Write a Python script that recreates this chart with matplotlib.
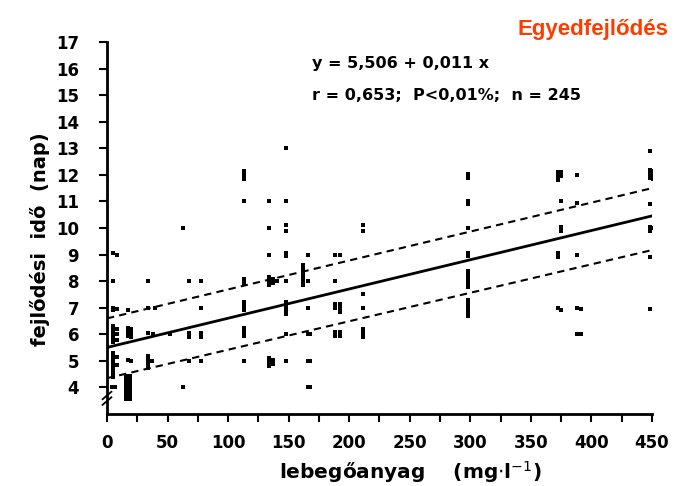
"""
Egyedfejlodes: development time vs suspended solids, with regression line.
"""
import matplotlib
matplotlib.use("Agg")
import matplotlib.pyplot as plt
import numpy as np

# regression line and confidence band end values (x = 0 and x = 450)
line_x = [0, 450]
fit_y = [5.506, 10.456]
upper_y = [6.6, 11.5]
lower_y = [4.35, 9.17]

pt_x = (
    [5] * 17 + [8] * 7 + [4, 7] + [16] * 7 + [19] * 7 + [17] * 5 + [20] * 4
    + [34] * 7 + [37, 38, 40] + [52] + [63] * 2 + [68] * 4 + [78] * 5
    + [113] * 13 + [134] * 9 + [137] * 4 + [140]
    + [148] * 13 + [162] * 6 + [166] * 6 + [168] * 3
    + [188] * 6 + [192] * 6 + [211] * 7
    + [298] * 17 + [372] * 6 + [375] * 6 + [388] * 5 + [391] * 2
    + [448] * 9 + [451] * 4
)
pt_y = (
    # x = 5 and 8
    [9.05, 8.0, 7.0, 6.3, 6.15, 6.0, 5.85, 5.7, 5.3, 5.15, 5.0, 4.85, 4.7, 4.55, 4.4, 4.0, 6.9]
    + [9.0, 6.95, 6.2, 6.0, 5.8, 5.15, 4.85]
    + [4.0, 4.0]
    # x = 16..20
    + [4.3, 4.15, 4.0, 3.85, 3.7, 3.55, 4.45]
    + [4.3, 4.15, 4.0, 3.85, 3.7, 3.55, 4.45]
    + [6.9, 6.25, 6.1, 5.95, 5.05]
    + [6.2, 6.05, 5.9, 5.0]
    # x = 34..78
    + [8.0, 7.0, 6.05, 5.2, 5.05, 4.9, 4.75]
    + [5.0, 6.0, 7.0]
    + [6.0]
    + [10.0, 4.0]
    + [8.0, 6.05, 5.9, 5.0]
    + [8.0, 7.0, 6.05, 5.9, 5.0]
    # x = 113
    + [12.15, 12.0, 11.85, 11.0, 8.1, 7.95, 7.2, 7.05, 6.9, 6.25, 6.1, 5.95, 5.0]
    # x = 134..140
    + [11.0, 10.0, 9.0, 8.15, 8.0, 7.85, 5.1, 4.95, 4.8]
    + [8.1, 7.95, 5.05, 4.9]
    + [8.0]
    # x = 148
    + [13.0, 11.0, 10.1, 9.9, 9.05, 8.95, 8.0, 7.2, 7.05, 6.9, 6.75, 6.0, 5.0]
    # x = 162..168
    + [8.6, 8.45, 8.3, 8.15, 8.0, 7.85]
    + [9.0, 8.0, 7.0, 6.0, 5.0, 4.0]
    + [6.0, 5.0, 4.0]
    # x = 188..211
    + [9.0, 8.0, 7.15, 7.0, 6.1, 5.95]
    + [9.0, 7.15, 7.0, 6.85, 6.1, 5.95]
    + [10.1, 9.9, 7.5, 7.0, 6.2, 6.05, 5.9]
    # x = 298
    + [12.05, 11.9, 11.0, 10.9, 10.0, 9.05, 8.95, 8.4, 8.25, 8.1, 7.95, 7.8, 7.3, 7.15, 7.0, 6.85, 6.7]
    # x = 372..391
    + [12.1, 11.95, 11.8, 9.05, 8.9, 7.0]
    + [12.1, 11.95, 11.0, 10.05, 9.9, 6.9]
    + [12.0, 10.95, 9.0, 7.0, 6.0]
    + [6.95, 6.0]
    # x = 448..451
    + [12.9, 12.2, 12.05, 11.9, 10.9, 10.05, 9.9, 8.9, 6.95]
    + [12.15, 12.0, 11.85, 10.0]
)

xticks = np.arange(0, 451, 50)
xminor = np.arange(0, 451, 25)
yticks = np.arange(4, 18, 1)

plt.rcParams["font.family"] = ["DejaVu Sans"]
fig = plt.figure(figsize=(6.97, 4.86), dpi=100)
ax = fig.add_axes([0.1535, 0.148, 0.7819, 0.7656])

ax.scatter(pt_x, pt_y, s=6, marker="s", color="black", linewidths=0, zorder=3)
ax.plot(line_x, fit_y, color="black", linewidth=2.0)
ax.plot(line_x, upper_y, color="black", linewidth=1.5, linestyle=(0, (3.5, 2.5)))
ax.plot(line_x, lower_y, color="black", linewidth=1.5, linestyle=(0, (3.5, 2.5)))

ax.set_xlim(0, 450)
ax.set_ylim(3, 17)
ax.set_xticks(xticks)
ax.set_xticks(xminor, minor=True)
ax.set_yticks(yticks)
ax.tick_params(axis="x", which="both", direction="out", length=6, width=1.5, pad=8, labelsize=12)
ax.tick_params(axis="y", direction="out", length=6, width=1.5, pad=14, labelsize=12)
for lab in ax.get_xticklabels() + ax.get_yticklabels():
    lab.set_fontweight("bold")
for side in ["top", "right"]:
    ax.spines[side].set_visible(False)
for side in ["left", "bottom"]:
    ax.spines[side].set_linewidth(2.0)

# axis break mark on the y axis
ax.plot([-0.008, 0.008], [0.025, 0.045], transform=ax.transAxes, color="black",
        linewidth=1.3, clip_on=False)
ax.plot([-0.008, 0.008], [0.040, 0.060], transform=ax.transAxes, color="black",
        linewidth=1.3, clip_on=False)

ax.set_ylabel("fejlődési  idő  (nap)", fontsize=14, fontweight="bold")
ax.yaxis.set_label_coords(-0.105, 0.47)
ax.set_xlabel(r"lebegőanyag    (mg$\cdot$l$^{-1}$)", fontsize=14.5, fontweight="bold")
ax.xaxis.set_label_coords(0.556, -0.12)

ax.text(0.377, 0.93, "y = 5,506 + 0,011 x", transform=ax.transAxes, fontsize=11.5,
        fontweight="bold")
ax.text(0.377, 0.845, "r = 0,653;  P<0,01%;  n = 245", transform=ax.transAxes,
        fontsize=11.5, fontweight="bold")

fig.text(0.959, 0.94, "Egyedfejlődés", ha="right", va="center", color="#ff3c00",
         fontsize=16, fontweight="bold", family=["Liberation Sans", "DejaVu Sans"])

fig.savefig("out.png", dpi=100)
